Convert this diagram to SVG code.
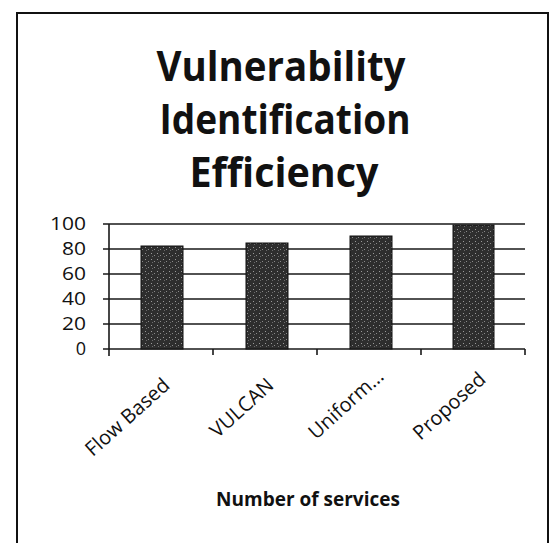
<svg xmlns="http://www.w3.org/2000/svg" width="553" height="543" viewBox="0 0 553 543">
<style>
.title{font-family:"Open Sans","Noto Sans",sans-serif;font-weight:bold;font-size:41px;fill:#111;text-anchor:middle}
.ylab{font-family:"Open Sans","Noto Sans",sans-serif;font-size:18px;fill:#111;text-anchor:end}
.xlab{font-family:"Open Sans","Noto Sans",sans-serif;font-size:20px;fill:#111;text-anchor:end}
.axtitle{font-family:"Open Sans","Noto Sans",sans-serif;font-weight:bold;font-size:19px;fill:#111;text-anchor:middle}
.grid{stroke:#1a1a1a;stroke-width:1.6;fill:none}
.bar{fill:url(#stip);stroke:#111;stroke-width:1}
</style>
<defs>
<pattern id="stip" width="6" height="6" patternUnits="userSpaceOnUse">
<rect width="6" height="6" fill="#2e2e2e"/>
<rect x="1" y="1" width="1" height="1" fill="#9a9a9a"/>
<rect x="4" y="3" width="1" height="1" fill="#8a8a8a"/>
<rect x="2" y="4" width="1" height="1" fill="#6a6a6a"/>
</pattern>
</defs>
<rect width="553" height="543" fill="#ffffff"/>
<g id="frame">
<path d="M17,543 V13 H548 V543" fill="none" stroke="#111" stroke-width="2"/>
</g>
<g id="title">
<text class="title" x="281" y="81" textLength="249" lengthAdjust="spacingAndGlyphs">Vulnerability</text>
<text class="title" x="285" y="134" textLength="251" lengthAdjust="spacingAndGlyphs">Identification</text>
<text class="title" x="284" y="187" textLength="189" lengthAdjust="spacingAndGlyphs">Efficiency</text>
</g>
<g id="gridlines">
<path class="grid" d="M103,224 H525 M103,249 H525 M103,274 H525 M103,299 H525 M103,324 H525 M103,349 H525"/>
<path class="grid" d="M109,224 V356 M213,349 V355 M317,349 V355 M421,349 V355 M525,349 V355"/>
</g>
<g id="y-labels">
<text class="ylab" x="86" y="230" textLength="36" lengthAdjust="spacingAndGlyphs">100</text>
<text class="ylab" x="86" y="255" textLength="24" lengthAdjust="spacingAndGlyphs">80</text>
<text class="ylab" x="86" y="280" textLength="24" lengthAdjust="spacingAndGlyphs">60</text>
<text class="ylab" x="86" y="305" textLength="24" lengthAdjust="spacingAndGlyphs">40</text>
<text class="ylab" x="86" y="330" textLength="24" lengthAdjust="spacingAndGlyphs">20</text>
<text class="ylab" x="86" y="355">0</text>
</g>
<g id="bars">
<rect id="bar-flow" class="bar" x="141" y="246" width="42" height="103"/>
<rect id="bar-vulcan" class="bar" x="246" y="243" width="42" height="106"/>
<rect id="bar-uniform" class="bar" x="350" y="236" width="42" height="113"/>
<rect id="bar-proposed" class="bar" x="453" y="225" width="41" height="124"/>
</g>
<g id="x-labels">
<text class="xlab" transform="translate(171,387) rotate(-42)">Flow Based</text>
<text class="xlab" transform="translate(275,387) rotate(-42)">VULCAN</text>
<text class="xlab" transform="translate(385,378) rotate(-42)">Uniform…</text>
<text class="xlab" transform="translate(487,381) rotate(-42)">Proposed</text>
</g>
<g id="axis-title">
<text class="axtitle" x="308" y="506">Number of services</text>
</g>
</svg>
